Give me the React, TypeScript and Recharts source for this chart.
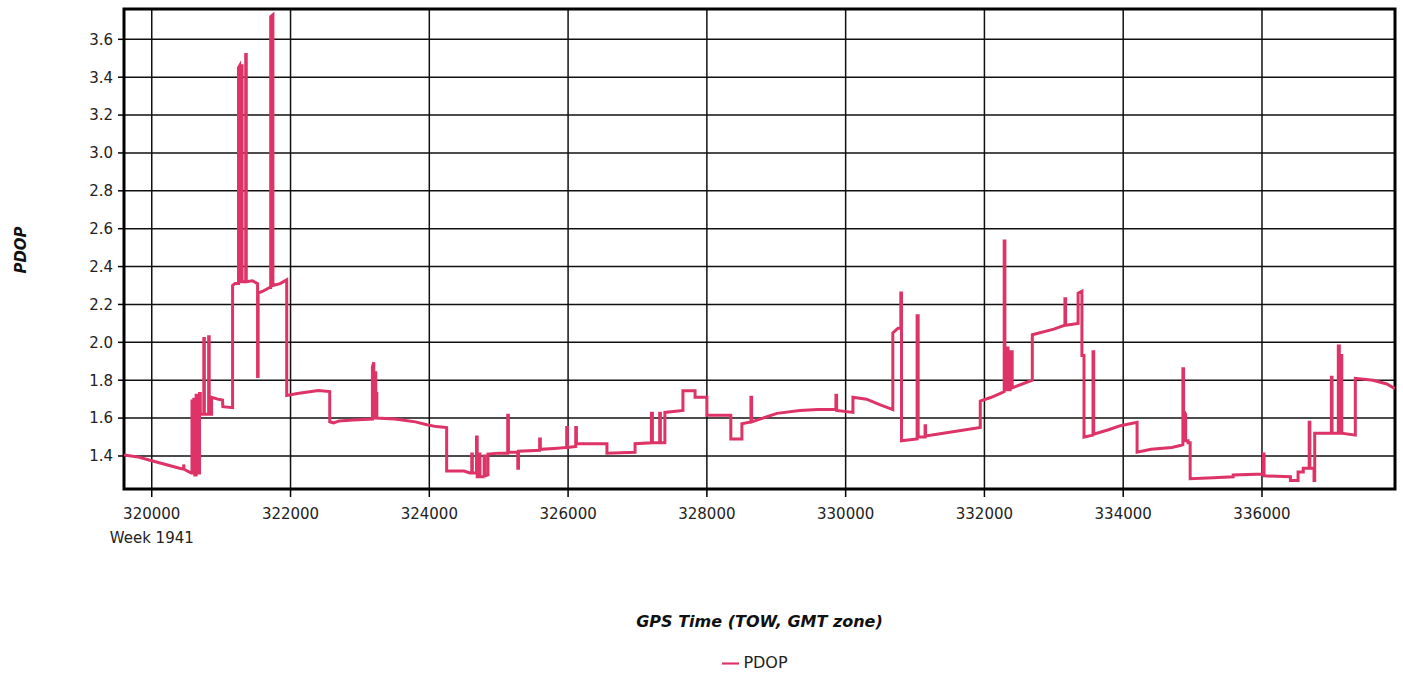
import {
  LineChart,
  Line,
  XAxis,
  YAxis,
  CartesianGrid,
  ReferenceArea,
  Legend,
} from "recharts";

const FONT = '"DejaVu Sans", Verdana, sans-serif';
const LINE_COLOR = "#dd3366";

const seriesName = "PDOP";
const weekNumber = 1941;
const xTicks = [320000, 322000, 324000, 326000, 328000, 330000, 332000, 334000, 336000];
const yTicks = [1.4, 1.6, 1.8, 2.0, 2.2, 2.4, 2.6, 2.8, 3.0, 3.2, 3.4, 3.6];
const xDomain = [319600, 337917];
const yDomain = [1.2256, 3.76];

// [GPS time of week (s), PDOP]
const pdopTrace: [number, number][] = [
  [319600, 1.405], [319800, 1.395], [320000, 1.375], [320200, 1.355], [320400, 1.335],
  [320460, 1.33], [320460, 1.355], [320466, 1.33], [320570, 1.31],
  [320580, 1.31], [320580, 1.69], [320592, 1.69], [320592, 1.31], [320606, 1.31], [320606, 1.7],
  [320620, 1.7], [320620, 1.3], [320640, 1.3], [320640, 1.72], [320660, 1.72], [320660, 1.31],
  [320688, 1.31], [320688, 1.73], [320700, 1.73], [320700, 1.62], [320750, 1.62], [320750, 2.02],
  [320758, 2.02], [320758, 1.62], [320820, 1.62], [320820, 2.03], [320828, 2.03], [320828, 1.62],
  [320862, 1.62], [320862, 1.71], [320950, 1.7], [321020, 1.695], [321024, 1.66], [321165, 1.655],
  [321165, 2.3],
  [321200, 2.31], [321250, 2.31], [321250, 3.45], [321266, 3.46], [321266, 2.32], [321294, 2.32],
  [321294, 3.46], [321302, 3.46], [321302, 2.32], [321354, 2.32], [321354, 3.52], [321362, 3.52],
  [321362, 2.32], [321450, 2.325], [321525, 2.31], [321525, 1.82], [321533, 1.82], [321533, 2.26],
  [321600, 2.27], [321700, 2.29], [321714, 2.29], [321714, 3.72], [321746, 3.73], [321746, 2.3],
  [321850, 2.31], [321945, 2.33], [321945, 1.72],
  [322100, 1.73], [322300, 1.74], [322400, 1.745], [322565, 1.74], [322565, 1.58], [322620, 1.575],
  [322700, 1.585], [322900, 1.59], [323180, 1.595], [323180, 1.87], [323200, 1.895], [323200, 1.6],
  [323214, 1.6], [323214, 1.84], [323228, 1.84], [323228, 1.73], [323244, 1.73], [323244, 1.6],
  [323500, 1.595], [323800, 1.58], [323965, 1.565], [324100, 1.555], [324250, 1.55], [324250, 1.32],
  [324500, 1.32], [324585, 1.31], [324612, 1.31], [324612, 1.41], [324620, 1.41], [324620, 1.31],
  [324680, 1.31], [324680, 1.5], [324690, 1.5], [324690, 1.29], [324720, 1.29], [324720, 1.41],
  [324730, 1.41], [324730, 1.29], [324790, 1.29], [324790, 1.4], [324800, 1.4], [324800, 1.295],
  [324845, 1.3], [324845, 1.41],
  [325000, 1.415], [325130, 1.415], [325130, 1.615], [325140, 1.615], [325140, 1.42], [325275, 1.42],
  [325275, 1.335], [325285, 1.335], [325285, 1.425], [325590, 1.43], [325590, 1.49], [325600, 1.49],
  [325600, 1.435], [325800, 1.44], [325980, 1.445], [325980, 1.55], [325990, 1.55], [325990, 1.445],
  [326110, 1.45], [326110, 1.55], [326120, 1.55], [326120, 1.465], [326560, 1.465], [326560, 1.415],
  [326965, 1.42], [326965, 1.465],
  [327200, 1.47], [327200, 1.625], [327215, 1.625], [327215, 1.47], [327320, 1.47], [327320, 1.625],
  [327330, 1.625], [327330, 1.47], [327395, 1.47], [327395, 1.63], [327655, 1.64], [327655, 1.745],
  [327830, 1.745], [327830, 1.71], [328000, 1.71], [328000, 1.615], [328345, 1.615], [328345, 1.49],
  [328505, 1.49], [328505, 1.57], [328635, 1.58], [328635, 1.71], [328645, 1.71], [328645, 1.58],
  [329010, 1.625], [329340, 1.64], [329600, 1.645], [329860, 1.645], [329860, 1.72], [329870, 1.72],
  [329870, 1.64], [330105, 1.63], [330105, 1.71], [330300, 1.7], [330500, 1.67], [330680, 1.645],
  [330680, 2.05], [330755, 2.075], [330795, 2.075], [330795, 2.26], [330805, 2.26], [330805, 1.48],
  [331030, 1.49], [331030, 2.14], [331045, 2.14], [331045, 1.5], [331145, 1.5], [331145, 1.56],
  [331152, 1.56], [331152, 1.505], [331500, 1.525], [331940, 1.55],
  [331940, 1.69], [332100, 1.71], [332255, 1.735], [332285, 1.74], [332285, 2.535], [332295, 2.535],
  [332295, 1.75], [332320, 1.75], [332320, 1.97], [332340, 1.97], [332340, 1.75], [332370, 1.75],
  [332370, 1.95], [332400, 1.95], [332400, 1.76], [332690, 1.8],
  [332690, 2.04], [333000, 2.07], [333160, 2.09], [333160, 2.23], [333170, 2.23], [333170, 2.09],
  [333350, 2.1], [333350, 2.26], [333405, 2.27], [333405, 1.93], [333435, 1.93], [333435, 1.5],
  [333565, 1.51], [333565, 1.95], [333575, 1.95], [333575, 1.515], [333800, 1.54], [333960, 1.56],
  [334200, 1.578],
  [334200, 1.42], [334400, 1.435], [334700, 1.445], [334820, 1.455], [334860, 1.46], [334860, 1.86],
  [334870, 1.86], [334870, 1.64], [334900, 1.62], [334900, 1.48], [334935, 1.48], [334935, 1.47],
  [334965, 1.47], [334965, 1.28],
  [335300, 1.285], [335585, 1.29], [335585, 1.3], [336020, 1.305], [336020, 1.41], [336030, 1.41],
  [336030, 1.295], [336410, 1.29], [336410, 1.27], [336520, 1.27], [336520, 1.315], [336595, 1.315],
  [336595, 1.335], [336680, 1.335], [336680, 1.578], [336690, 1.578], [336690, 1.335], [336750, 1.335],
  [336750, 1.27], [336760, 1.27], [336760, 1.52],
  [337000, 1.52], [337000, 1.815], [337010, 1.815], [337010, 1.52], [337100, 1.52], [337100, 1.98],
  [337115, 1.98], [337115, 1.52], [337140, 1.52], [337140, 1.93], [337150, 1.93], [337150, 1.52],
  [337345, 1.51], [337345, 1.81], [337600, 1.8], [337800, 1.78], [337915, 1.755],
];

const data = pdopTrace.map(([tow, pdop]) => ({ tow, pdop }));

function TowTick(props: any) {
  const { x, y, payload } = props;
  return (
    <text x={x} y={y} textAnchor="middle" fontFamily={FONT} fontSize={15} fill="#222">
      <tspan x={x} dy={19.5}>{payload.value}</tspan>
      {payload.value === xTicks[0] && (
        <tspan x={x} dy={24}>Week {weekNumber}</tspan>
      )}
    </text>
  );
}

function XTitle(props: any) {
  const { viewBox } = props;
  return (
    <text
      x={viewBox.x + viewBox.width / 2}
      y={627}
      textAnchor="middle"
      fontFamily={FONT}
      fontSize={16}
      fontWeight="bold"
      fontStyle="italic"
      fill="#111"
    >
      GPS Time (TOW, GMT zone)
    </text>
  );
}

function YTitle() {
  return (
    <text
      x={21}
      y={250}
      transform="rotate(-90, 21, 250)"
      textAnchor="middle"
      dominantBaseline="central"
      fontFamily={FONT}
      fontSize={15}
      fontWeight="bold"
      fontStyle="italic"
      fill="#111"
    >
      {seriesName}
    </text>
  );
}

export default function App() {
  return (
    <div style={{ position: "absolute", left: 0, top: 0, background: "#fff" }}>
      <LineChart
        width={1400}
        height={672}
        data={data}
        margin={{ top: 9, right: 5, bottom: 123, left: 64 }}
        style={{ fontFamily: FONT }}
      >
        <CartesianGrid stroke="#111" strokeWidth={1.5} />
        <XAxis
          dataKey="tow"
          type="number"
          domain={xDomain}
          ticks={xTicks}
          allowDataOverflow
          height={60}
          axisLine={false}
          tickSize={8}
          tickLine={{ stroke: "#000", strokeWidth: 1.5 }}
          tick={<TowTick />}
          interval={0}
          label={<XTitle />}
        />
        <YAxis
          type="number"
          domain={yDomain}
          ticks={yTicks}
          allowDataOverflow
          width={60}
          axisLine={false}
          tickSize={6}
          tickMargin={5}
          tickLine={{ stroke: "#000", strokeWidth: 1.5 }}
          tick={{ fontFamily: FONT, fontSize: 15, fill: "#222" }}
          tickFormatter={(v: number) => v.toFixed(1)}
          interval={0}
          label={<YTitle />}
        />
        <Line
          type="linear"
          dataKey="pdop"
          name={seriesName}
          stroke={LINE_COLOR}
          strokeWidth={3}
          dot={false}
          activeDot={false}
          isAnimationActive={false}
        />
        <ReferenceArea
          x1={xDomain[0]}
          x2={xDomain[1]}
          y1={yDomain[0]}
          y2={yDomain[1]}
          fill="none"
          stroke="#000"
          strokeWidth={3}
          ifOverflow="visible"
        />
        <Legend
          verticalAlign="middle"
          align="center"
          layout="horizontal"
          iconType="plainline"
          iconSize={17}
          width={1272}
          wrapperStyle={{ top: 653, left: 124, width: 1272, fontFamily: FONT, fontSize: 16 }}
          formatter={(value: string) => <span style={{ color: "#222" }}>{value}</span>}
        />
      </LineChart>
    </div>
  );
}
